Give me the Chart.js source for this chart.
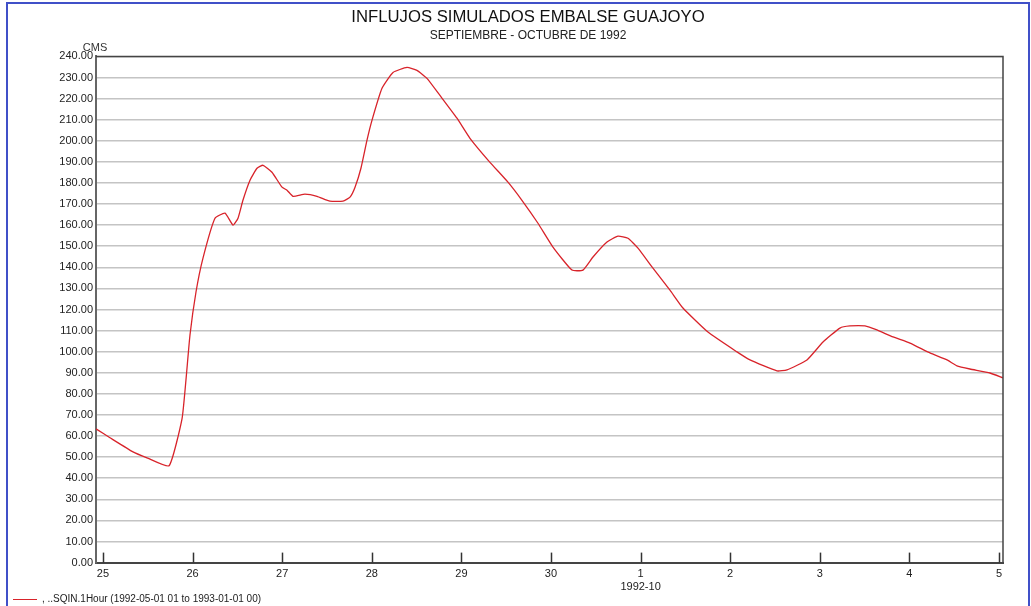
<!DOCTYPE html>
<html>
<head>
<meta charset="utf-8">
<script src="https://cdn.jsdelivr.net/npm/chart.js@4.4.1/dist/chart.umd.min.js"></script>
<style>
  html, body { margin: 0; padding: 0; background: #fff; }
  #wrap { position: relative; width: 1031px; height: 606px; }
</style>
</head>
<body>
<div id="wrap"><canvas id="inflowChart"></canvas></div>
<script>
// tiempo en dias desde 1992-09-25 00:00
var tDays = [-0.078, 0.078, 0.335, 0.491, 0.737, 0.882, 0.926, 0.971, 1.038, 1.116,
    1.25, 1.362, 1.451, 1.507, 1.562, 1.641, 1.719, 1.786, 1.886, 1.998,
    2.054, 2.121, 2.254, 2.388, 2.533, 2.679, 2.757, 2.813, 2.879, 2.946,
    3.002, 3.114, 3.237, 3.393, 3.504, 3.616, 3.761, 3.951, 4.096, 4.319,
    4.52, 4.676, 4.855, 5.022, 5.234, 5.357, 5.469, 5.625, 5.748, 5.859,
    5.971, 6.138, 6.328, 6.473, 6.752, 7.076, 7.221, 7.522, 7.634, 7.857,
    8.036, 8.225, 8.337, 8.504, 8.638, 8.817, 9.007, 9.23, 9.42, 9.531,
    9.676, 9.9, 10.045];
// caudal (CMS)
var cms = [63.4, 59.2, 52.5, 49.7, 45.9, 68.2, 86.6, 107.9, 128.3, 144.4,
    163.3, 165.7, 160.0, 163.3, 171.8, 181.3, 187.0, 188.4, 185.1, 178.0,
    176.6, 173.7, 174.7, 173.7, 171.4, 171.4, 173.3, 178.0, 187.0, 200.2,
    209.7, 224.9, 232.4, 234.8, 233.4, 229.6, 221.5, 210.7, 201.2, 189.8,
    180.4, 171.8, 160.9, 149.6, 138.7, 138.7, 144.9, 152.0, 154.8, 153.8,
    149.1, 139.6, 129.2, 120.7, 109.3, 99.9, 96.1, 90.9, 91.4, 96.1,
    104.6, 111.2, 112.2, 112.2, 110.3, 107.0, 104.1, 99.4, 96.1, 93.3,
    91.8, 89.9, 87.6];
var dayLabels = ['25', '26', '27', '28', '29', '30', ['1', '1992-10'], '2', '3', '4', '5'];
var seriesName = ', ..SQIN.1Hour (1992-05-01 01 to 1993-01-01 00)';

var FONT = '"Liberation Sans", Arial, sans-serif';

var framePlugin = {
    id: 'frame',
    beforeDraw: function (chart) {
        var c = chart.ctx;
        c.save();
        c.fillStyle = '#fff';
        c.fillRect(0, 0, chart.width, chart.height);
        c.strokeStyle = '#4050c8';
        c.lineWidth = 2;
        c.beginPath();
        c.moveTo(7, 606); c.lineTo(7, 3); c.lineTo(1029, 3); c.lineTo(1029, 606);
        c.stroke();
        c.restore();
    },
    afterDraw: function (chart) {
        var a = chart.chartArea, c = chart.ctx, x = chart.scales.x;
        c.save();
        // borde superior y derecho
        c.strokeStyle = '#444';
        c.lineWidth = 1.5;
        c.beginPath();
        c.moveTo(a.left, a.top); c.lineTo(a.right, a.top); c.lineTo(a.right, a.bottom);
        c.stroke();
        // marcas del eje x hacia adentro
        c.strokeStyle = '#333';
        c.lineWidth = 1.5;
        x.ticks.forEach(function (t) {
            var px = Math.round(x.getPixelForValue(t.value)) + 0.5;
            c.beginPath(); c.moveTo(px, a.bottom); c.lineTo(px, a.bottom - 10); c.stroke();
        });
        // unidad
        c.fillStyle = '#333';
        c.font = '11px ' + FONT;
        c.textAlign = 'center';
        c.textBaseline = 'middle';
        c.fillText('CMS', a.left - 1, a.top - 8);
        // leyenda
        var ds = chart.data.datasets[0];
        c.strokeStyle = ds.borderColor;
        c.lineWidth = 1;
        c.beginPath(); c.moveTo(13, 599.5); c.lineTo(37, 599.5); c.stroke();
        c.textAlign = 'left';
        c.font = '10px ' + FONT;
        c.fillStyle = '#222';
        c.fillText(ds.label, 42, 599);
        c.restore();
    }
};

var ctx = document.getElementById('inflowChart').getContext('2d');
var inflowChart = new Chart(ctx, {
    type: 'line',
    data: {
        datasets: [{
            label: seriesName,
            data: tDays.map(function (t, i) { return { x: t, y: cms[i] }; }),
            borderColor: '#d8232a',
            borderWidth: 1.3,
            pointRadius: 0,
            tension: 0.15,
            fill: false
        }]
    },
    options: {
        responsive: true,
        maintainAspectRatio: false,
        animation: false,
        layout: { padding: { left: 53, right: 28, top: 0, bottom: 7 } },
        plugins: {
            legend: { display: false },
            tooltip: { enabled: false },
            title: {
                display: true,
                text: 'INFLUJOS SIMULADOS EMBALSE GUAJOYO',
                color: '#111',
                font: { family: FONT, size: 16.7, weight: 'normal' },
                padding: { top: 7, bottom: 1 }
            },
            subtitle: {
                display: true,
                text: 'SEPTIEMBRE - OCTUBRE DE 1992',
                color: '#222',
                font: { family: FONT, size: 12, weight: 'normal' },
                padding: { top: 0, bottom: 14 }
            }
        },
        scales: {
            x: {
                type: 'linear',
                min: -0.078,
                max: 10.045,
                grid: { display: false, drawTicks: false },
                border: { display: true, color: '#444', width: 2 },
                ticks: {
                    stepSize: 1,
                    includeBounds: false,
                    autoSkip: false,
                    maxRotation: 0,
                    padding: 5,
                    color: '#222',
                    font: { family: FONT, size: 11 },
                    callback: function (v) { return dayLabels[Math.round(v)]; }
                }
            },
            y: {
                min: 0,
                max: 240,
                grid: { color: '#c4c4c4', lineWidth: 1.5, drawTicks: false },
                border: { display: true, color: '#666', width: 2 },
                ticks: {
                    stepSize: 10,
                    padding: 3,
                    color: '#222',
                    font: { family: FONT, size: 11 },
                    callback: function (v) { return v.toFixed(2); }
                },
                afterFit: function (s) { s.width = 43; }
            }
        }
    },
    plugins: [framePlugin]
});
</script>
</body>
</html>
